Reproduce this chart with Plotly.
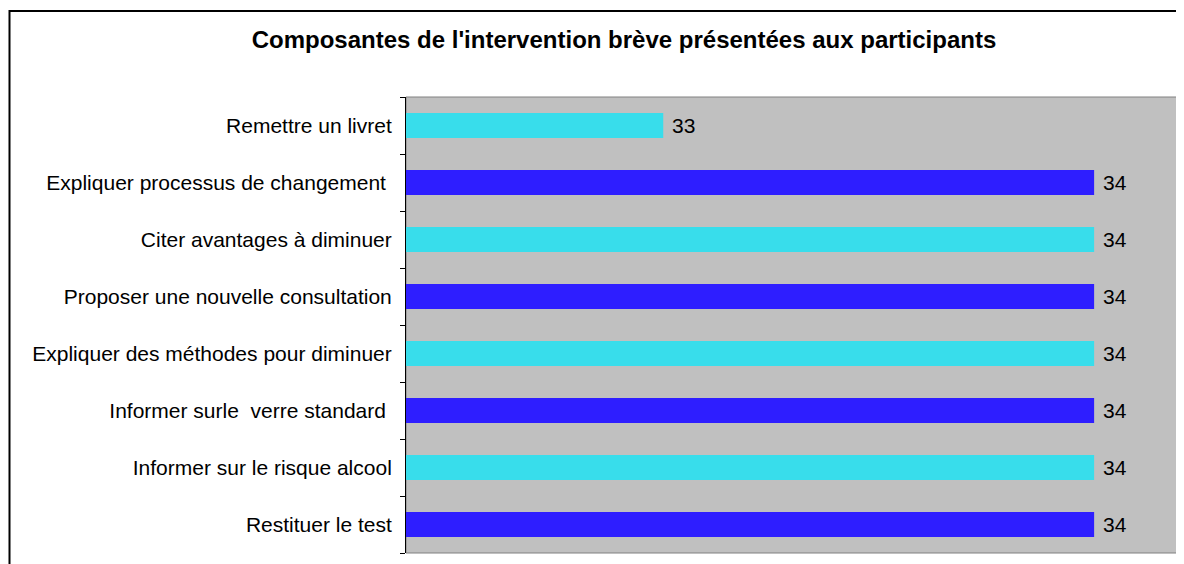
import plotly.graph_objects as go

# Data (bottom to top)
categories = [
    "Restituer le test",
    "Informer sur le risque alcool",
    "Informer surle\u00a0 verre standard\u00a0",
    "Expliquer des méthodes pour diminuer",
    "Proposer une nouvelle consultation",
    "Citer avantages à diminuer",
    "Expliquer processus de changement\u00a0",
    "Remettre un livret",
]
values = [34, 34, 34, 34, 34, 34, 34, 33]
bar_colors = ["#2E1EFF", "#38DDEB", "#2E1EFF", "#38DDEB",
              "#2E1EFF", "#38DDEB", "#2E1EFF", "#38DDEB"]
title_text = "Composantes de l'intervention brève présentées aux participants"

OFF = 8  # default page body margin
W, H = 1184 - OFF, 564 - OFF
L, R, T, B = 406 - OFF, 1179 - OFF, 97 - OFF, 553 - OFF
FONT = "Liberation Sans, Arial, sans-serif"

fig = go.Figure(go.Bar(
    x=values, y=categories, orientation="h",
    marker=dict(color=bar_colors, line=dict(width=0)),
    texttemplate="\u00a0%{x}", textposition="outside",
    textfont=dict(size=21, color="black", family=FONT),
    cliponaxis=False, hoverinfo="skip",
))

def px_x(p):
    return (p - OFF - L) / (R - L)

def px_y(p):
    return (B - (p - OFF)) / (B - T)

fig.update_layout(
    width=W, height=H,
    margin=dict(l=L, r=W - R, t=T, b=H - B, autoexpand=False),
    paper_bgcolor="white", plot_bgcolor="#C0C0C0",
    bargap=0.56, showlegend=False,
    font=dict(family=FONT, size=21, color="black"),
    title=dict(text="<b>" + title_text + "</b>", xref="container", yref="container",
               x=(624 - OFF) / W, y=1 - (40 - OFF) / H, xanchor="center", yanchor="middle",
               font=dict(size=24, family=FONT, color="black")),
    xaxis=dict(range=[32.403, 34.197], showticklabels=False, ticks="",
               showgrid=False, zeroline=False, showline=False, fixedrange=True),
    yaxis=dict(type="category", categoryorder="array", categoryarray=categories,
               showline=True, linecolor="black", linewidth=1,
               ticks="outside", ticklen=5, tickcolor="black", tickwidth=1,
               tickson="boundaries", ticklabelstandoff=9,
               showgrid=False, zeroline=False,
               tickfont=dict(size=21, color="black", family=FONT),
               automargin=False, fixedrange=True),
    shapes=[
        dict(type="rect", xref="paper", yref="paper", x0=0, x1=1, y0=0, y1=1,
             line=dict(color="#808080", width=1), layer="below"),
        dict(type="rect", xref="paper", yref="paper",
             x0=px_x(9.5), x1=px_x(1220), y0=px_y(620), y1=px_y(11),
             line=dict(color="black", width=2), layer="above"),
    ],
)

fig.write_html("out.html")
